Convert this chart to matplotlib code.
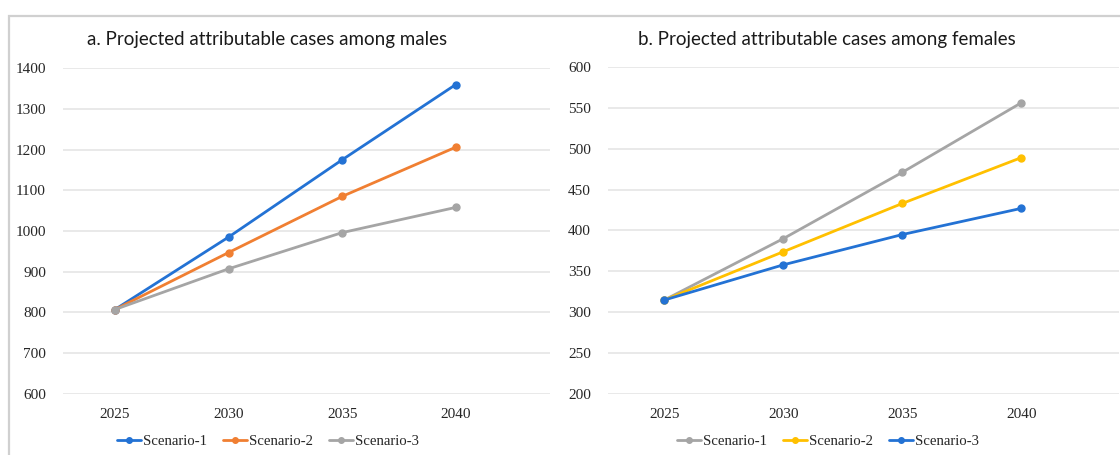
import matplotlib
matplotlib.use("Agg")
import matplotlib.pyplot as plt
from matplotlib.patches import Rectangle

years = ["2025", "2030", "2035", "2040"]

male_s1 = [807, 985, 1175, 1360]
male_s2 = [807, 947, 1085, 1206]
male_s3 = [807, 907, 996, 1058]

female_s1 = [315, 390, 471, 556]
female_s2 = [315, 374, 433, 489]
female_s3 = [315, 358, 395, 427]

series_labels = ["Scenario-1", "Scenario-2", "Scenario-3"]

male_yticks = list(range(600, 1401, 100))
female_yticks = list(range(200, 601, 50))

BLUE = "#2372D4"
ORANGE = "#F07F32"
GRAY = "#A5A5A5"
YELLOW = "#FFC000"

W, H = 1120, 455
fig = plt.figure(figsize=(W / 100, H / 100), dpi=100)

# outer chart frame
fig.patches.append(Rectangle((8.5 / W, -0.1), 1.2, 1 - 16 / H + 0.1,
                             transform=fig.transFigure, fill=False,
                             edgecolor="#D0D0D0", linewidth=1.6, zorder=0))


def px_axes(x0, x1, y0, y1):
    return fig.add_axes([x0 / W, 1 - y1 / H, (x1 - x0) / W, (y1 - y0) / H])


def draw_panel(ax, series, colors, yticks, xlim, title, title_x, legend_x):
    x = range(len(years))
    handles = []
    for vals, col, lab in zip(series, colors, series_labels):
        h, = ax.plot(x, vals, color=col, lw=2.0, marker="o", ms=5,
                     label=lab, solid_capstyle="round", zorder=3)
        handles.append(h)
    ax.set_xlim(*xlim)
    ax.set_ylim(yticks[0], yticks[-1])
    ax.set_yticks(yticks)
    ax.set_yticklabels([str(v) for v in yticks])
    ax.set_xticks(list(x))
    ax.set_xticklabels(years)
    ax.grid(axis="y", color="#E3E3E3", lw=1.1, zorder=0)
    for s in ax.spines.values():
        s.set_visible(False)
    ax.tick_params(axis="both", length=0, labelsize=11, colors="#262626")
    ax.tick_params(axis="y", pad=12)
    ax.tick_params(axis="x", pad=10)
    for lbl in ax.get_xticklabels() + ax.get_yticklabels():
        lbl.set_family("Liberation Serif")
    fig.text(title_x / W, 1 - 40 / H, title, ha="center", va="center",
             fontsize=13.5, family="Lato", color="#1A1A1A")
    leg = fig.legend(handles=handles, loc="center",
                     bbox_to_anchor=(legend_x / W, 1 - 441 / H),
                     ncol=3, frameon=False, handlelength=1.6,
                     handletextpad=0.15, columnspacing=1.1,
                     prop={"family": "Liberation Serif", "size": 10.6})
    for h in leg.legend_handles:
        h.set_markersize(4)
        h.set_linewidth(2)
    for t in leg.get_texts():
        t.set_color("#262626")


ax1 = px_axes(62.7, 550, 68.3, 393.7)
draw_panel(ax1, [male_s1, male_s2, male_s3], [BLUE, ORANGE, GRAY],
           male_yticks, (-0.46, 3.83),
           "a. Projected attributable cases among males", 267, 268)

ax2 = px_axes(607.7, 1119, 66.7, 394.2)
draw_panel(ax2, [female_s1, female_s2, female_s3], [GRAY, YELLOW, BLUE],
           female_yticks, (-0.475, 3.82),
           "b. Projected attributable cases among females", 827, 828)

fig.savefig("out.png", dpi=100)
